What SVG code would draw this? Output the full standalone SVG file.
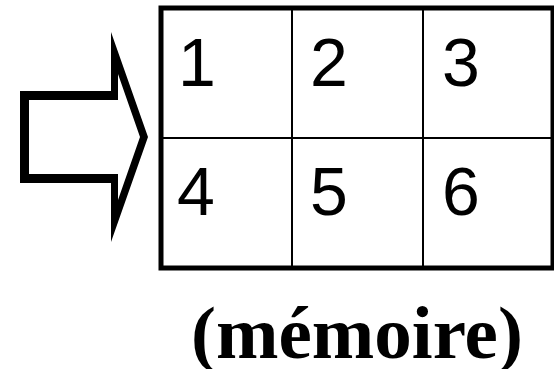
<svg xmlns="http://www.w3.org/2000/svg" width="554" height="369" viewBox="0 0 554 369">
<style>
.digit{font-family:"Liberation Sans",Arial,sans-serif;font-size:68px;fill:#000}
.cap{font-family:"Liberation Serif","Times New Roman",serif;font-size:75px;font-weight:bold;fill:#000}
.thin{stroke:#000;stroke-width:2;fill:none}
</style>
<rect width="554" height="369" fill="#fff"/>
<g id="arrow">
<path fill="#000" fill-rule="evenodd" d="M20,91 L111,91 L111,32 L148,137 L111,242 L111,183 L20,183 Z M29,100 L118,100 L118,74 L140,137 L118,200 L118,174 L29,174 Z"/>
</g>
<g id="memory">
<line class="thin" x1="292" y1="8" x2="292" y2="268"/>
<line class="thin" x1="423" y1="8" x2="423" y2="268"/>
<line class="thin" x1="161" y1="138" x2="554" y2="138"/>
<rect x="161" y="8" width="392" height="260" fill="none" stroke="#000" stroke-width="5"/>
<text class="digit" x="178" y="86">1</text>
<text class="digit" x="310" y="86">2</text>
<text class="digit" x="442" y="86">3</text>
<text class="digit" x="177" y="215">4</text>
<text class="digit" x="310" y="215">5</text>
<text class="digit" x="442" y="215">6</text>
</g>
<g id="label">
<text class="cap" x="357" y="358" text-anchor="middle">(mémoire)</text>
</g>
</svg>
